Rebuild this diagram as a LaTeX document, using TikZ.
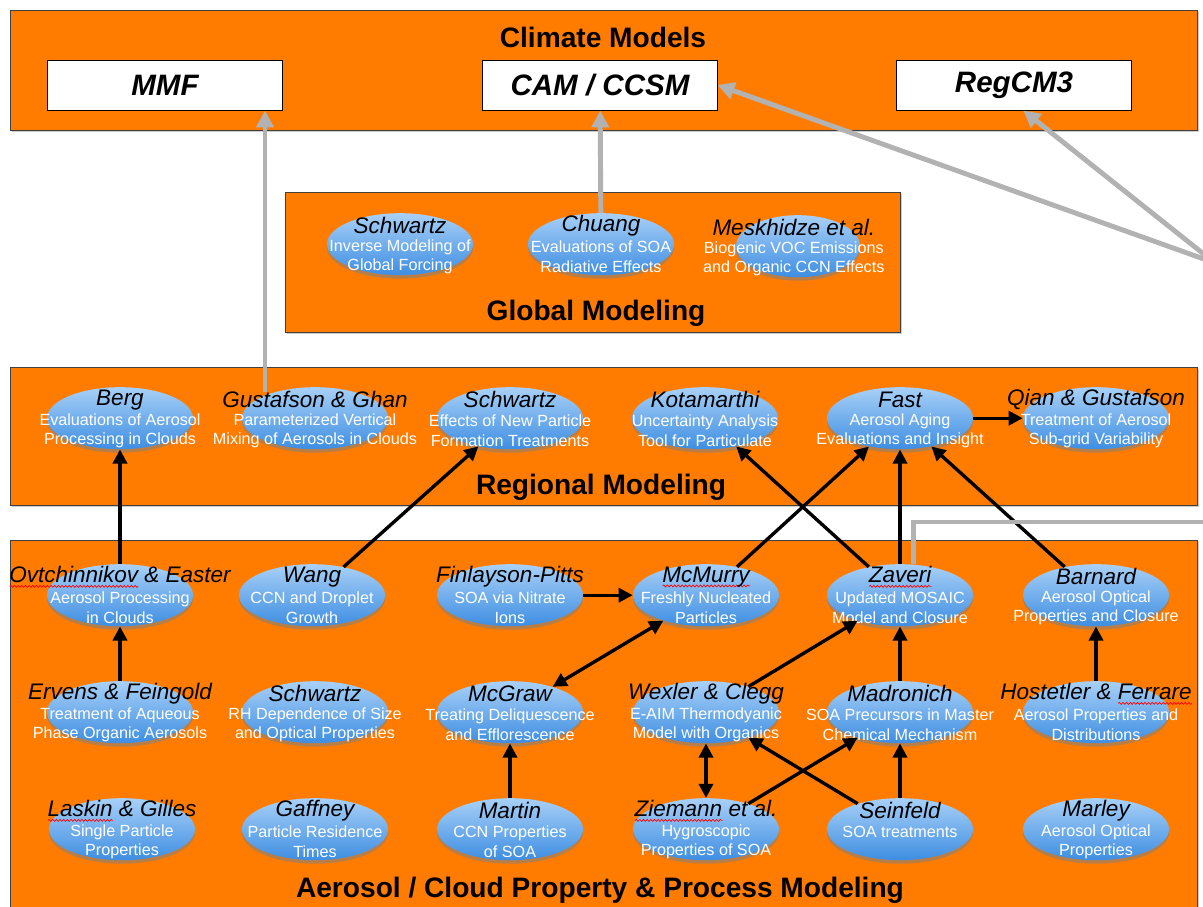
\documentclass[tikz,border=0pt]{standalone}
\usepackage{fontspec}
\setmainfont{Liberation Sans}
\usetikzlibrary{arrows.meta,positioning,shapes,shadows,decorations.pathmorphing}

\definecolor{panelorange}{RGB}{255,124,0}
\definecolor{blobtop}{RGB}{168,208,247}
\definecolor{blobbot}{RGB}{62,142,226}
\definecolor{linkgray}{RGB}{178,178,178}

\newsavebox\spellbox
\newlength\spellwd
\newcommand\spellerr[1]{\sbox\spellbox{#1}\setlength\spellwd{\wd\spellbox}%
	\rlap{\tikz[baseline = 0pt]\draw[red, line width = 0.5pt, decorate, decoration = {snake, amplitude = 0.7pt, segment length = 2.6pt}] (0pt,-2.8pt) -- (\spellwd,-2.8pt);}\usebox\spellbox}

\begin{document}
\begin{tikzpicture}[
	x = 0.025cm, y = -0.025cm,
	panel/.style = {draw = black!75, fill = panelorange, line width = 0.7pt, drop shadow = {opacity = 0.4, shadow xshift = 1.5pt, shadow yshift = -1.5pt}},
	modelbox/.style = {draw = black, fill = white, line width = 0.7pt, minimum width = 5.85cm, minimum height = 1.25cm, font = \fontsize{21}{24}\selectfont\bfseries\itshape},
	paneltitle/.style = {font = \fontsize{20}{24}\selectfont\bfseries, inner sep = 0pt},
	blob/.style = {ellipse, minimum width = 3.65cm, minimum height = 1.55cm, inner sep = 0pt, yshift = 2pt, top color = blobtop, bottom color = blobbot, drop shadow = {opacity = 0.55, shadow xshift = 0pt, shadow yshift = -2.5pt}},
	who/.style = {font = \fontsize{16}{18}\selectfont\itshape, inner sep = 0pt, yshift = 13pt},
	desc/.style = {font = \fontsize{11.5}{14}\selectfont, text = white, align = center, inner sep = 0pt, yshift = -2pt},
	what/.style = {desc, yshift = -7pt},
	blk/.style = {line width = 2.4pt, -{Triangle[length = 10pt, width = 10pt]}},
	blkboth/.style = {line width = 2.4pt, {Triangle[length = 10pt, width = 10pt]}-{Triangle[length = 10pt, width = 10pt]}},
	gry/.style = {line width = 3.5pt, draw = linkgray, -{Triangle[length = 12pt, width = 12pt, fill = linkgray]}}
	]
	\useasboundingbox (0,0) rectangle (1203,907);
	
	% panels
	\draw[panel] (10,10) rectangle (1197,130);
	\draw[panel] (285,192) rectangle (900,332);
	\draw[panel] (10,367) rectangle (1197,505);
	\draw[panel] (10,540) rectangle (1197,940);
	
	\node[paneltitle] (climT) at (603,37) {Climate Models};
	\node[paneltitle] (globT) at (596,313) {Global Modeling};
	\node[paneltitle] (regT) at (601,487) {Regional Modeling};
	\node[paneltitle] (aerT) at (600,890) {Aerosol / Cloud Property \& Process Modeling};
	
	\node[modelbox] (mmf) at (165,85) {MMF};
	\node[modelbox] (cam) at (600,85) {CAM / CCSM};
	\node[modelbox] (reg) at (1014,85) {RegCM3};
	
	% global modeling
	\node[blob] (gschw) at (400,247) {};
	\node[who] (gschwN) at (gschw) {Schwartz};
	\node[what] (gschwD) at (gschw) {Inverse Modeling of\\Global Forcing};
	\node[blob] (chuang) at (601,247) {};
	\node[who] (chuangN) at (chuang) {Chuang};
	\node[what] (chuangD) at (chuang) {Evaluations of SOA\\Radiative Effects};
	\node[blob, minimum width = 3.1cm] (mesk) at (798,249) {};
	\node[who, xshift = -3pt] (meskN) at (mesk) {Meskhidze et al.};
	\node[what, xshift = -3pt] (meskD) at (mesk) {Biogenic VOC Emissions\\and Organic CCN Effects};
	
	% regional modeling
	\node[blob] (berg) at (120,421) {};
	\node[who] (bergN) at (berg) {Berg};
	\node[what] (bergD) at (berg) {Evaluations of Aerosol\\Processing in Clouds};
	\node[blob] (gus) at (315,421) {};
	\node[who] (gusN) at (gus) {Gustafson \& Ghan};
	\node[what] (gusD) at (gus) {Parameterized Vertical\\Mixing of Aerosols in Clouds};
	\node[blob] (rschw) at (510,421) {};
	\node[who] (rschwN) at (rschw) {Schwartz};
	\node[what] (rschwD) at (rschw) {Effects of New Particle\\Formation Treatments};
	\node[blob] (kota) at (705,421) {};
	\node[who] (kotaN) at (kota) {Kotamarthi};
	\node[what] (kotaD) at (kota) {Uncertainty Analysis\\Tool for Particulate};
	\node[blob] (fast) at (900,421) {};
	\node[who] (fastN) at (fast) {Fast};
	\node[what] (fastD) at (fast) {Aerosol Aging\\Evaluations and Insight};
	\node[blob] (qian) at (1096,421) {};
	\node[who] (qianN) at (qian) {Qian \& Gustafson};
	\node[what] (qianD) at (qian) {Treatment of Aerosol\\Sub-grid Variability};
	
	% aerosol / cloud, first row
	\node[blob] (ovt) at (120,598) {};
	\node[who] (ovtN) at (ovt) {\spellerr{Ovtchinnikov} \& Easter};
	\node[what] (ovtD) at (ovt) {Aerosol Processing\\in Clouds};
	\node[blob] (wang) at (312,598) {};
	\node[who] (wangN) at (wang) {Wang};
	\node[what] (wangD) at (wang) {CCN and Droplet\\Growth};
	\node[blob] (finl) at (510,598) {};
	\node[who] (finlN) at (finl) {Finlayson-Pitts};
	\node[what] (finlD) at (finl) {SOA via Nitrate\\Ions};
	\node[blob] (mcm) at (706,598) {};
	\node[who] (mcmN) at (mcm) {\spellerr{McMurry}};
	\node[what] (mcmD) at (mcm) {Freshly Nucleated\\Particles};
	\node[blob] (zav) at (900,598) {};
	\node[who] (zavN) at (zav) {\spellerr{Zaveri}};
	\node[what] (zavD) at (zav) {Updated MOSAIC\\Model and Closure};
	\node[blob] (barn) at (1096,598) {};
	\node[who] (barnN) at (barn) {Barnard};
	\node[what] (barnD) at (barn) {Aerosol Optical\\Properties and Closure};
	
	% second row
	\node[blob] (erv) at (120,715) {};
	\node[who] (ervN) at (erv) {Ervens \& Feingold};
	\node[what] (ervD) at (erv) {Treatment of Aqueous\\Phase Organic Aerosols};
	\node[blob] (aschw) at (315,715) {};
	\node[who] (aschwN) at (aschw) {Schwartz};
	\node[what] (aschwD) at (aschw) {RH Dependence of Size\\and Optical Properties};
	\node[blob] (mcg) at (510,715) {};
	\node[who] (mcgN) at (mcg) {McGraw};
	\node[what] (mcgD) at (mcg) {Treating Deliquescence\\and Efflorescence};
	\node[blob] (wex) at (706,715) {};
	\node[who] (wexN) at (wex) {Wexler \& Clegg};
	\node[what] (wexD) at (wex) {E-AIM Thermodyanic\\Model with Organics};
	\node[blob] (madr) at (900,715) {};
	\node[who] (madrN) at (madr) {Madronich};
	\node[what] (madrD) at (madr) {SOA Precursors in Master\\Chemical Mechanism};
	\node[blob] (host) at (1096,715) {};
	\node[who] (hostN) at (host) {Hostetler \& \spellerr{Ferrare}};
	\node[what] (hostD) at (host) {Aerosol Properties and\\Distributions};
	
	% third row
	\node[blob] (lask) at (122,832) {};
	\node[who] (laskN) at (lask) {\spellerr{Laskin} \& Gilles};
	\node[what] (laskD) at (lask) {Single Particle\\Properties};
	\node[blob] (gaff) at (315,832) {};
	\node[who] (gaffN) at (gaff) {Gaffney};
	\node[what] (gaffD) at (gaff) {Particle Residence\\Times};
	\node[blob] (mart) at (510,832) {};
	\node[who] (martN) at (mart) {Martin};
	\node[what] (martD) at (mart) {CCN Properties\\of SOA};
	\node[blob] (ziem) at (706,832) {};
	\node[who] (ziemN) at (ziem) {\spellerr{Ziemann} et al.};
	\node[what] (ziemD) at (ziem) {Hygroscopic\\Properties of SOA};
	\node[blob] (sein) at (900,832) {};
	\node[who] (seinN) at (sein) {Seinfeld};
	\node[desc] (seinD) at (sein) {SOA treatments};
	\node[blob] (marl) at (1096,832) {};
	\node[who] (marlN) at (marl) {Marley};
	\node[what] (marlD) at (marl) {Aerosol Optical\\Properties};
	
	% black links
	\draw[blk] (ovt) -- (berg);
	\draw[blk] (wang) -- (rschw);
	\draw[blk] (erv) -- (ovt);
	\draw[blk] (finl) -- (mcm);
	\draw[blkboth] (mcm) -- (mcg);
	\draw[blk] (mcm) -- (fast);
	\draw[blk] (zav) -- (kota);
	\draw[blk] (zav) -- (fast);
	\draw[blk] (barn) -- (fast);
	\draw[blk] (fast) -- (qian);
	\draw[blk] (wex) -- (zav);
	\draw[blk] (madr) -- (zav);
	\draw[blk] (host) -- (barn);
	\draw[blk] (mart) -- (mcg);
	\draw[blkboth] (wex) -- (ziem);
	\draw[blk] (sein) -- (wex);
	\draw[blk] (ziem) -- (madr);
	\draw[blk] (sein) -- (madr);
	
	% gray links up to the climate models
	\coordinate (gusfoot) at (265,392);
	\draw[gry] (gusfoot) -- (gusfoot |- mmf.south);
	\draw[gry] (chuang) -- (cam);
	\coordinate (offedge) at (1215,263);
	\draw[gry] (offedge) -- (cam.east);
	\draw[gry] (offedge) -- (reg.290);
	\coordinate (zavrun) at (1215,522);
	\draw[gry, -] (zav.67) |- (zavrun);
	
\end{tikzpicture}
\end{document}
